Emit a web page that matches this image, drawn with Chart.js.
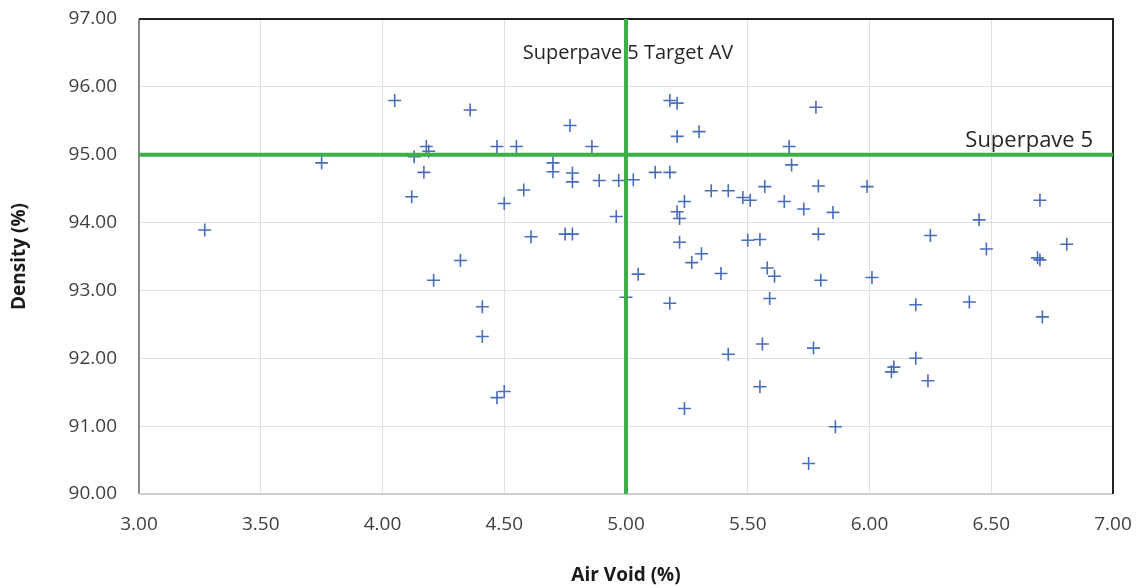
<!DOCTYPE html>
<html>
<head>
<meta charset="utf-8">
<title>Density vs Air Void</title>
<script src="https://cdn.jsdelivr.net/npm/chart.js@4/dist/chart.umd.min.js"></script>
<style>
  html, body { margin: 0; padding: 0; background: #ffffff; }
  #wrap { width: 1141px; height: 588px; }
</style>
</head>
<body>
<div id="wrap"><canvas id="c" width="1141" height="588"></canvas></div>
<script>
// Measured samples: air void (%) and density (%)
const airVoid = [
  3.27, 3.75, 4.05, 4.36, 4.77, 4.18, 4.19, 4.47, 4.55, 4.86,
  4.13, 4.17, 4.12, 4.70, 4.70, 4.78, 4.78, 4.89, 4.97, 5.03,
  5.12, 5.18, 5.18, 5.21, 5.21, 5.30, 4.58, 4.50, 4.96, 4.61,
  4.75, 4.78, 5.24, 5.21, 5.22, 5.22, 5.35, 5.42, 5.48, 5.51,
  5.57, 5.50, 5.55, 5.78, 5.67, 5.68, 5.79, 5.99, 5.65, 5.73,
  5.85, 6.70, 6.45, 6.25, 5.79, 6.48, 6.81, 6.69, 6.70, 5.58,
  5.61, 5.80, 6.01, 5.59, 6.19, 6.41, 6.71, 5.56, 5.77, 6.19,
  6.10, 6.09, 6.24, 5.55, 5.86, 5.75, 4.32, 4.21, 5.31, 5.27,
  5.39, 5.05, 5.00, 5.18, 4.41, 4.41, 5.42, 4.50, 4.47, 5.24
];
const density = [
  93.89, 94.88, 95.80, 95.66, 95.43, 95.12, 95.05, 95.12, 95.12, 95.12,
  94.97, 94.74, 94.38, 94.88, 94.75, 94.73, 94.60, 94.62, 94.62, 94.63,
  94.74, 94.74, 95.80, 95.76, 95.27, 95.34, 94.48, 94.28, 94.09, 93.79,
  93.83, 93.83, 94.31, 94.16, 94.06, 93.71, 94.47, 94.47, 94.37, 94.33,
  94.53, 93.74, 93.75, 95.70, 95.12, 94.85, 94.54, 94.53, 94.31, 94.20,
  94.15, 94.33, 94.04, 93.81, 93.83, 93.61, 93.68, 93.48, 93.45, 93.33,
  93.21, 93.15, 93.19, 92.88, 92.79, 92.83, 92.61, 92.21, 92.15, 92.00,
  91.87, 91.80, 91.67, 91.58, 90.99, 90.45, 93.44, 93.15, 93.54, 93.41,
  93.25, 93.24, 92.90, 92.81, 92.76, 92.32, 92.06, 91.51, 91.42, 91.26
];

// Specification limits
const targetAirVoid = 5.0;
const targetDensity = 95.0;

// Axis ranges and tick steps
const xRange = [3.0, 7.0];
const yRange = [90.0, 97.0];
const xStep = 0.5;
const yStep = 1.0;

const targetAvLabel = 'Superpave 5 Target AV';
const densityLabel = 'Superpave 5';
const xTitle = 'Air Void (%)';
const yTitle = 'Density (%)';

const points = airVoid.map((x, i) => ({ x: x, y: density[i] }));
const green = '#3daf47';
const blue = '#4a6cbc';
const fontFamily = '"Open Sans", "Noto Sans", sans-serif';

// Frame and limit-line captions
const framePlugin = {
  id: 'frame',
  beforeDatasetsDraw(chart) {
    const { ctx, chartArea: a } = chart;
    ctx.save();
    ctx.lineCap = 'butt';
    // left axis line
    ctx.strokeStyle = '#8a8a8a';
    ctx.lineWidth = 2;
    ctx.beginPath();
    ctx.moveTo(a.left, a.top);
    ctx.lineTo(a.left, a.bottom);
    ctx.stroke();
    // bottom axis line
    ctx.strokeStyle = '#cfcfcf';
    ctx.lineWidth = 2;
    ctx.beginPath();
    ctx.moveTo(a.left, a.bottom);
    ctx.lineTo(a.right, a.bottom);
    ctx.stroke();
    // top and right frame
    ctx.strokeStyle = '#222222';
    ctx.lineWidth = 2;
    ctx.beginPath();
    ctx.moveTo(a.left, a.top);
    ctx.lineTo(a.right, a.top);
    ctx.lineTo(a.right, a.bottom);
    ctx.stroke();
    ctx.restore();
  },
  afterDatasetsDraw(chart) {
    const { ctx, scales } = chart;
    const xs = scales.x, ys = scales.y;
    ctx.save();
    ctx.fillStyle = '#262626';
    ctx.font = '20px ' + fontFamily;
    ctx.textAlign = 'center';
    ctx.textBaseline = 'middle';
    ctx.fillText(targetAvLabel, xs.getPixelForValue(targetAirVoid) + 2, ys.top + 34);
    ctx.font = '22px ' + fontFamily;
    ctx.textAlign = 'right';
    ctx.textBaseline = 'alphabetic';
    ctx.fillText(densityLabel, xs.right - 20, ys.getPixelForValue(targetDensity) - 8);
    ctx.restore();
  }
};

new Chart(document.getElementById('c'), {
  type: 'scatter',
  data: {
    datasets: [
      {
        label: 'Samples',
        data: points,
        pointStyle: 'cross',
        radius: 6.5,
        hoverRadius: 6.5,
        borderColor: blue,
        backgroundColor: blue,
        borderWidth: 1.6,
        order: 2
      },
      {
        label: 'Target AV',
        type: 'line',
        data: [{ x: targetAirVoid, y: yRange[0] }, { x: targetAirVoid, y: yRange[1] }],
        borderColor: green,
        borderWidth: 4,
        pointRadius: 0,
        fill: false,
        order: 1
      },
      {
        label: 'Target density',
        type: 'line',
        data: [{ x: xRange[0], y: targetDensity }, { x: xRange[1], y: targetDensity }],
        borderColor: green,
        borderWidth: 4,
        pointRadius: 0,
        fill: false,
        order: 1
      }
    ]
  },
  options: {
    responsive: false,
    animation: false,
    devicePixelRatio: 1,
    layout: { autoPadding: false, padding: { left: 0, right: 28, top: 19, bottom: 0 } },
    plugins: {
      legend: { display: false },
      tooltip: { enabled: false }
    },
    scales: {
      x: {
        type: 'linear',
        min: xRange[0],
        max: xRange[1],
        border: { display: false },
        grid: { color: '#dde1e7', lineWidth: 1, drawTicks: false },
        ticks: {
          stepSize: xStep,
          padding: 19,
          color: '#404040',
          font: { family: fontFamily, size: 19 },
          callback: v => Number(v).toFixed(2)
        },
        title: {
          display: true,
          text: xTitle,
          color: '#1a1a1a',
          font: { family: fontFamily, size: 19, weight: 'bold' },
          padding: { top: 0, bottom: 1 }
        },
        afterFit(scale) {
          scale.height = 94;
          scale.paddingLeft = 0;
          scale.paddingRight = 0;
        }
      },
      y: {
        type: 'linear',
        min: yRange[0],
        max: yRange[1],
        border: { display: false },
        grid: { color: '#dde1e7', lineWidth: 1, drawTicks: false },
        ticks: {
          stepSize: yStep,
          padding: 22,
          color: '#404040',
          font: { family: fontFamily, size: 19 },
          callback: v => Number(v).toFixed(2)
        },
        title: {
          display: true,
          text: yTitle,
          color: '#1a1a1a',
          font: { family: fontFamily, size: 19, weight: 'bold' },
          padding: { top: 8, bottom: 0 }
        },
        afterFit(scale) {
          scale.width = 139;
          scale.paddingTop = 0;
          scale.paddingBottom = 0;
        }
      }
    }
  },
  plugins: [framePlugin]
});
</script>
</body>
</html>
